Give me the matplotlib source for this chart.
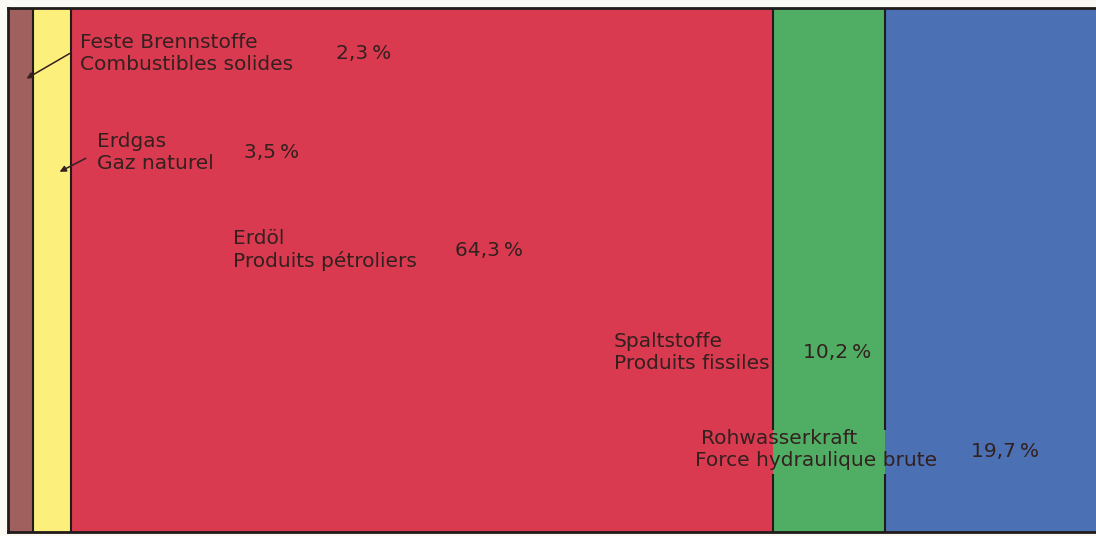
import matplotlib
matplotlib.use("Agg")
import matplotlib.pyplot as plt

# Data
names_de = ["Feste Brennstoffe", "Erdgas", "Erdöl", "Spaltstoffe", "Rohwasserkraft"]
names_fr = ["Combustibles solides", "Gaz naturel", "Produits pétroliers", "Produits fissiles", "Force hydraulique brute"]
shares = [2.3, 3.5, 64.3, 10.2, 19.7]
share_labels = ["2,3\u2009%", "3,5\u2009%", "64,3\u2009%", "10,2\u2009%", "19,7\u2009%"]
colors = ["#a0605d", "#fcef7c", "#d93a50", "#4fae63", "#4b70b3"]

W, H = 1096, 536
fig = plt.figure(figsize=(W / 100, H / 100), dpi=100, facecolor="#fbf9f3")
ax = fig.add_axes([8 / W, 4 / H, 1092 / W, 524 / H])
ax.set_xlim(0, 100)
ax.set_ylim(0, 1)

edge = "#221b1b"
left = 0
bounds = []
for s, c in zip(shares, colors):
    ax.barh(0.5, s, left=left, height=1.0, color=c, edgecolor="none", linewidth=0)
    left += s
    bounds.append(left)

# segment borders (the two right-hand ones are interrupted by the hydro label)
for i, b in enumerate(bounds[:-1]):
    if i >= 2:
        ax.vlines(b, 0, 0.11, color=edge, lw=1.5)
        ax.vlines(b, 0.195, 1, color=edge, lw=1.5)
    else:
        ax.vlines(b, 0, 1, color=edge, lw=1.5)

for sp in ax.spines.values():
    sp.set_linewidth(2)
    sp.set_color(edge)
ax.set_xticks([])
ax.set_yticks([])

fs = 14.5
tc = "#33201f"
font = "DejaVu Sans"
kw = dict(transform=ax.transAxes, fontsize=fs, color=tc, family=font, va="center", ha="left", linespacing=1.2)

label_pos = [(0.066, 0.914), (0.0818, 0.725), (0.206, 0.538), (0.555, 0.3435)]
pct_pos = [(0.3006, 0.914), (0.216, 0.725), (0.409, 0.538), (0.728, 0.342), (0.882, 0.153)]

for i in range(4):
    ax.text(label_pos[i][0], label_pos[i][1], names_de[i] + "\n" + names_fr[i], **kw)
ax.text(0.635, 0.179, names_de[4], **kw)
ax.text(0.629, 0.1355, names_fr[4], **kw)

for (x, y), t in zip(pct_pos, share_labels):
    ax.text(x, y, t, **kw)

ax.annotate("", xy=(0.0147, 0.8626), xytext=(0.0588, 0.916), xycoords="axes fraction",
            arrowprops=dict(arrowstyle="-|>", color=tc, lw=1.1, mutation_scale=9))
ax.annotate("", xy=(0.045, 0.685), xytext=(0.0735, 0.7156), xycoords="axes fraction",
            arrowprops=dict(arrowstyle="-|>", color=tc, lw=1.1, mutation_scale=9))

fig.savefig("out.png", dpi=100, facecolor=fig.get_facecolor())
